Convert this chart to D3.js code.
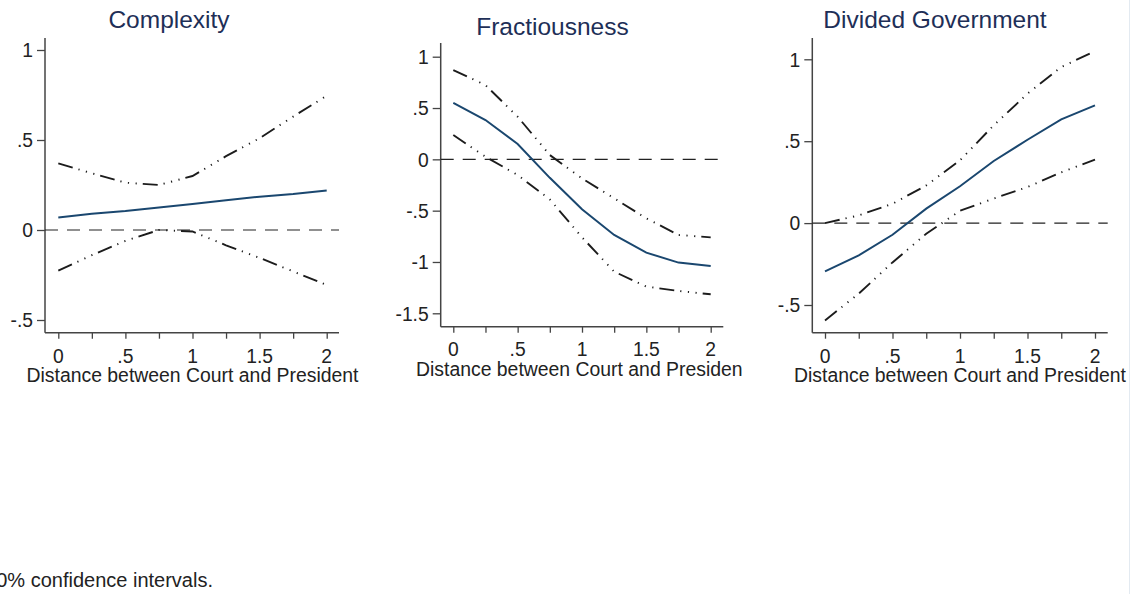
<!DOCTYPE html>
<html>
<head>
<meta charset="utf-8">
<script src="https://cdn.jsdelivr.net/npm/d3@7"></script>
<style>
  html, body { margin: 0; padding: 0; background: #fff; }
  svg { display: block; font-family: "Liberation Sans", Arial, Helvetica, sans-serif; }
</style>
</head>
<body>
<svg id="chart" width="1134" height="594"></svg>
<script>
// ---- data ----
const xVals = [0, 0.25, 0.5, 0.75, 1, 1.25, 1.5, 1.75, 2];
const xTickVals = [0, 0.25, 0.5, 0.75, 1, 1.25, 1.5, 1.75, 2];
const xTickLabels = ["0", "", ".5", "", "1", "", "1.5", "", "2"];
const xAxisTitle = "Distance between Court and President";

const titles = ["Complexity", "Fractiousness", "Divided Government"];

const complexityEst   = [0.07, 0.09, 0.105, 0.125, 0.145, 0.165, 0.185, 0.20, 0.22];
const complexityUpper = [0.37, 0.315, 0.263, 0.25, 0.30, 0.41, 0.51, 0.63, 0.746];
const complexityLower = [-0.226, -0.14, -0.06, 0.0, -0.008, -0.085, -0.155, -0.23, -0.306];

const fractEst   = [0.551, 0.383, 0.149, -0.18, -0.487, -0.737, -0.909, -1.006, -1.039];
const fractUpper = [0.87, 0.723, 0.415, 0.042, -0.185, -0.38, -0.575, -0.737, -0.76];
const fractLower = [0.237, 0.025, -0.153, -0.39, -0.76, -1.094, -1.24, -1.282, -1.315];

const dividedEst   = [-0.295, -0.197, -0.071, 0.088, 0.225, 0.379, 0.509, 0.633, 0.719];
const dividedUpper = [0.0, 0.047, 0.118, 0.23, 0.383, 0.597, 0.79, 0.953, 1.05];
const dividedLower = [-0.594, -0.431, -0.24, -0.065, 0.075, 0.15, 0.22, 0.31, 0.388];

const yTicks1 = [-0.5, 0, 0.5, 1];
const yTickLabels1 = ["-.5", "0", ".5", "1"];
const yTicks2 = [-1.5, -1, -0.5, 0, 0.5, 1];
const yTickLabels2 = ["-1.5", "-1", "-.5", "0", ".5", "1"];
const yTicks3 = [-0.5, 0, 0.5, 1];
const yTickLabels3 = ["-.5", "0", ".5", "1"];

const footnote = "90% confidence intervals.";

// ---- layout (positions only) ----
const panels = [
  { title: titles[0], est: complexityEst, up: complexityUpper, lo: complexityLower,
    yt: yTicks1, ytl: yTickLabels1, ydom: [-0.5, 1],
    x0: 58.3, x1: 326.7, yA: 320, yB: 50, axisX: 45, axisTop: 38, axisBottom: 332.7, axisRight: 339,
    titleX: 169, titleY: 28, tickLabY: 362.5, axTitleY: 381.5, clipRight: null },
  { title: titles[1], est: fractEst, up: fractUpper, lo: fractLower,
    yt: yTicks2, ytl: yTickLabels2, ydom: [-1.5, 1],
    x0: 453.3, x1: 710.7, yA: 313.3, yB: 56.7, axisX: 440.7, axisTop: 43, axisBottom: 326.7, axisRight: 723.3,
    titleX: 552.5, titleY: 34.5, tickLabY: 355.5, axTitleY: 375.5, clipRight: 742 },
  { title: titles[2], est: dividedEst, up: dividedUpper, lo: dividedLower,
    yt: yTicks3, ytl: yTickLabels3, ydom: [-0.5, 1],
    x0: 825, x1: 1095, yA: 305, yB: 59.3, axisX: 812.3, axisTop: 38, axisBottom: 332.7, axisRight: 1107.7,
    titleX: 935, titleY: 28, tickLabY: 362.5, axTitleY: 381.5, clipRight: null }
];

const svg = d3.select("#chart");
const defs = svg.append("defs");

const navy = "#1a476f";
const titleColor = "#1e2f57";
const textColor = "#222";
const axisColor = "#444";
const ciDash = "15,6,1.2,6.5,1.2,6.5,1.2,6";

panels.forEach((p, i) => {
  const x = d3.scaleLinear().domain([0, 2]).range([p.x0, p.x1]);
  const y = d3.scaleLinear().domain([p.ydom[0], p.ydom[1]]).range([p.yA, p.yB]);
  const g = svg.append("g");

  // title
  g.append("text")
    .attr("x", p.titleX).attr("y", p.titleY)
    .attr("text-anchor", "middle")
    .attr("font-size", 24.5)
    .attr("fill", titleColor)
    .text(p.title);

  // y axis
  const yAxis = d3.axisLeft(y).tickValues(p.yt)
    .tickFormat((d, k) => p.ytl[k]).tickSize(8).tickSizeOuter(0).tickPadding(4);
  const ya = g.append("g").attr("transform", `translate(${p.axisX},0)`).call(yAxis);
  ya.select(".domain").remove();
  ya.selectAll(".tick line").attr("stroke", axisColor).attr("stroke-width", 1.3);
  ya.selectAll(".tick text").attr("font-size", 19.3).attr("fill", textColor)
    .attr("font-family", "Liberation Sans, Arial, sans-serif").attr("dy", "0.35em");
  g.append("line").attr("x1", p.axisX).attr("x2", p.axisX)
    .attr("y1", p.axisTop).attr("y2", p.axisBottom)
    .attr("stroke", axisColor).attr("stroke-width", 1.5);

  // x axis
  const xAxis = d3.axisBottom(x).tickValues(xTickVals)
    .tickFormat(() => "").tickSize(6).tickSizeOuter(0);
  const xa = g.append("g").attr("transform", `translate(0,${p.axisBottom})`).call(xAxis);
  xa.select(".domain").remove();
  xa.selectAll(".tick line").attr("stroke", axisColor).attr("stroke-width", 1.3);
  g.append("line").attr("x1", p.axisX).attr("x2", p.axisRight)
    .attr("y1", p.axisBottom).attr("y2", p.axisBottom)
    .attr("stroke", axisColor).attr("stroke-width", 1.5);
  g.selectAll("text.xl").data(xTickVals.filter((d, k) => xTickLabels[k] !== ""))
    .enter().append("text").attr("class", "xl")
    .attr("x", d => x(d)).attr("y", p.tickLabY)
    .attr("text-anchor", "middle").attr("font-size", 19.3).attr("fill", textColor)
    .text(d => xTickLabels[xTickVals.indexOf(d)]);

  // x axis title (possibly clipped)
  const at = g.append("text")
    .attr("x", (p.x0 + p.x1) / 2).attr("y", p.axTitleY)
    .attr("text-anchor", "middle").attr("font-size", 19.4).attr("fill", textColor)
    .text(xAxisTitle);
  if (p.clipRight) {
    const id = "clip" + i;
    defs.append("clipPath").attr("id", id).append("rect")
      .attr("x", p.axisX - 60).attr("y", p.axTitleY - 25)
      .attr("width", p.clipRight - (p.axisX - 60)).attr("height", 40);
    at.attr("clip-path", `url(#${id})`);
  }

  // zero reference line
  g.append("line").attr("x1", p.axisX).attr("x2", p.axisRight)
    .attr("y1", y(0)).attr("y2", y(0))
    .attr("stroke", "#222").attr("stroke-width", 1.1)
    .attr("stroke-dasharray", "13,9");

  const line = d3.line().x((d, k) => x(xVals[k])).y(d => y(d));

  // confidence bounds
  [p.up, p.lo].forEach(arr => {
    g.append("path").datum(arr).attr("d", line)
      .attr("fill", "none").attr("stroke", "#1c1c1c").attr("stroke-width", 1.9)
      .attr("stroke-dasharray", ciDash);
  });

  // estimate
  g.append("path").datum(p.est).attr("d", line)
    .attr("fill", "none").attr("stroke", navy).attr("stroke-width", 2);
});

// faint right border
svg.append("line").attr("x1", 1129.5).attr("x2", 1129.5).attr("y1", 0).attr("y2", 594)
  .attr("stroke", "#e3eaf1").attr("stroke-width", 1);

// footnote (left-clipped in original)
svg.append("text").attr("x", 213).attr("y", 587)
  .attr("text-anchor", "end").attr("font-size", 20).attr("fill", textColor)
  .text(footnote);
</script>
</body>
</html>
